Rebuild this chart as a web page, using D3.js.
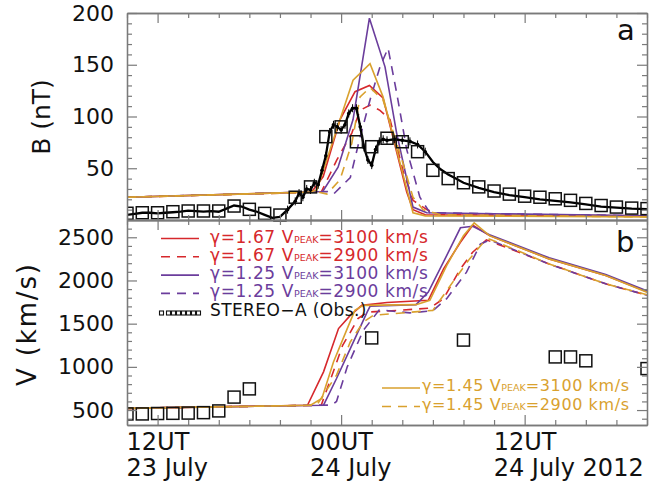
<!DOCTYPE html>
<html>
<head>
<meta charset="UTF-8">
<title>B and V, 23-24 July 2012</title>
<style>
  body { margin: 0; background: #fff; }
  text { font-family: "DejaVu Sans", sans-serif; }
</style>
</head>
<body>
<svg></svg>
<script src="https://d3js.org/d3.v7.min.js"></script>
<script>
// time in hours from 00UT 24 July 2012
// ---- panel a : B (nT) ----
const redB       = [[-14,22],[-2,27],[-1.9,27.5],[-1.17,42],[-0.07,97],[0.91,124],[1.85,130],[2.74,118],[3.39,80],[4.29,27],[4.7,10],[5.5,5],[20,4]];
const redDashB   = [[-14,22],[-1.3,27],[-0.28,58],[0.7,84],[1.24,106],[1.89,111],[2.54,106],[3.2,97],[4.04,48],[4.7,19],[5.6,10],[6.5,5],[20,4]];
const purpleB    = [[-14,22],[-1.2,27.5],[-0.2,51],[0.78,97],[1.85,195],[2.87,148],[3.63,84],[4.7,12.5],[5.6,7],[20,4]];
const purpleDashB= [[-14,22],[-0.9,27.5],[-0.5,25],[0.6,41],[1.24,80],[1.89,116],[2.54,148],[3.07,166],[3.63,123],[4.29,68],[5.15,22],[5.8,7],[20,4]];
const goldB      = [[-14,22],[-2,27],[-1.58,29],[-0.72,68],[0.78,135],[1.89,151],[2.74,119],[3.52,74],[4.7,7],[5.5,4],[20,3]];
const goldDashB  = [[-14,22],[-1.5,27],[-0.93,25],[-0.07,39],[0.7,74],[1.24,119],[1.89,128],[2.74,116],[4.04,55],[4.7,22],[5.35,10],[6.5,5],[20,3]];
const obsB = [[-14,5],[-13.5,6],[-13,7],[-12.5,7],[-12,6.5],[-11.5,7],[-11,7.5],[-10.5,8],[-10,9],[-9.5,8.5],[-9,8],[-8.5,8.5],[-8,8],
  [-7.5,11],[-7,14],[-6.5,13],[-6,10],[-5.5,8],[-5,5],[-4.5,2],[-4,3],[-3.5,10],[-3,18],[-2.75,26],[-2.5,22],[-2.25,30],[-2,29],[-1.75,36],[-1.5,34],
  [-1.25,48],[-1,62],[-0.75,85],[-0.5,92],[-0.25,90],[0,87],[0.25,92],[0.5,103],[0.75,108],[1,108],[1.25,90],[1.5,70],[1.75,58],[2,53],
  [2.25,68],[2.5,76],[2.75,78],[3,77],[3.5,78],[4,77],[4.5,76],[5,73],[5.5,66],[6,56],[6.5,49],[7,44],[7.5,40],[8,36],[9,31],[10,27],
  [11,24],[12,22],[13,20],[14,18.5],[15,17],[16,15],[17,13],[18,12],[19,11],[20,10.5]];
const sqBTime  = [-14,-13,-12,-11,-10,-9,-8,-7,-6,-5,-4,-3,-2,-1,0,1,2,3,4,5,6,7,8,9,10,11,12,13,14,15,16,17,18,19,20];
const sqBValue = [6.5,7,7,8,8.7,8.7,8.7,13.5,10.3,6.4,4.8,22,32,80.5,90,75.6,70.8,79,75.6,66,48,40,36,32,28,25,23,22,20.5,19,16,14,12.5,11.5,11];

// ---- panel b : V (km/s) ----
const redV        = [[-14,520],[-2.2,555],[-1.15,942],[-0.17,1443],[0.6,1596],[1.35,1712],[3,1745],[5.7,1770],[6.7,2135],[7.8,2442],[8.6,2640],[9.7,2519],[13.6,2250],[17.3,2057],[20,1868]];
const redDashV    = [[-14,520],[-1.3,556],[-0.5,950],[0.1,1250],[0.6,1400],[1.1,1558],[1.7,1634],[3.8,1654],[5.8,1680],[6.7,1790],[7.8,2135],[8.6,2327],[9.5,2470],[13.6,2192],[17.3,1961],[20,1830]];
const purpleV     = [[-14,520],[-1.15,556],[-0.3,865],[0.6,1212],[1.7,1634],[1.9,1703],[4.9,1720],[5.7,1865],[6.9,2288],[7.8,2610],[8.6,2627],[9.7,2530],[13.6,2262],[17.3,2070],[20,1880]];
const purpleDashV = [[-14,520],[-0.6,558],[-0.3,600],[0.4,1000],[1.45,1423],[2.5,1660],[4.5,1625],[6,1650],[6.9,1790],[8.2,2096],[9.1,2420],[9.7,2470],[13.6,2190],[17.3,1961],[20,1830]];
const goldV       = [[-14,520],[-2,555],[-1.26,635],[-0.5,1057],[0.4,1443],[0.9,1654],[1.45,1712],[4.9,1720],[5.8,1770],[6.9,2173],[8,2519],[8.7,2666],[9.7,2519],[13.6,2250],[17.3,2057],[20,1865]];
const goldDashV   = [[-14,520],[-1.6,556],[-0.3,904],[0.6,1288],[1.45,1519],[2.1,1596],[6,1654],[7.3,1981],[8.4,2250],[9.4,2462],[9.7,2480],[13.6,2192],[17.3,1961],[20,1835]];
const sqVTime  = [-14,-13,-12,-11,-10,-9,-8,-7,-6,2,8,14,15,16,20];
const sqVValue = [455,455,460,462,465,470,490,650,745,1335,1310,1115,1115,1070,980];

// ticks and labels
const bTicks = [50,100,150,200];
const bMinor = [10,20,30,40,60,70,80,90,110,120,130,140,160,170,180,190];
const vTicks = [500,1000,1500,2000,2500];
const vMinor = [400,600,700,800,900,1100,1200,1300,1400,1600,1700,1800,1900,2100,2200,2300,2400,2600];
const xTicks = [-12,0,12];
const xMinor = [-14,-10,-8,-6,-4,-2,2,4,6,8,10,14,16,18,20];
const xLabels = [["12UT","23 July"],["00UT","24 July"],["12UT","24 July 2012"]];

const RED = "#d6282c", PURPLE = "#6b3d9c", GOLD = "#d9a12e";
const models = [
  {b: redB, v: redV, color: RED, dash: null, gamma: "1.67", vp: "3100"},
  {b: redDashB, v: redDashV, color: RED, dash: "9,7", gamma: "1.67", vp: "2900"},
  {b: purpleB, v: purpleV, color: PURPLE, dash: null, gamma: "1.25", vp: "3100"},
  {b: purpleDashB, v: purpleDashV, color: PURPLE, dash: "9,7", gamma: "1.25", vp: "2900"},
  {b: goldB, v: goldV, color: GOLD, dash: null, gamma: "1.45", vp: "3100"},
  {b: goldDashB, v: goldDashV, color: GOLD, dash: "9,7", gamma: "1.45", vp: "2900"}
];

const width = 667, height = 486;
const left = 127, right = 647;
const svg = d3.select("svg").attr("width", width).attr("height", height);

const x = d3.scaleLinear().domain([-14, 20]).range([left, right]);
const yB = d3.scaleLinear().domain([0, 200]).range([220, 13]);
const yV = d3.scaleLinear().domain([327, 2700]).range([425, 220]);

const defs = svg.append("defs");
defs.append("clipPath").attr("id", "clipA").append("rect")
    .attr("x", left).attr("y", 13).attr("width", right - left).attr("height", 207);
defs.append("clipPath").attr("id", "clipB").append("rect")
    .attr("x", left).attr("y", 220).attr("width", right - left).attr("height", 205);
defs.append("clipPath").attr("id", "clipX").append("rect")
    .attr("x", left).attr("y", 0).attr("width", right - left).attr("height", height);

function frame(y, major, minor) {
  const [y0, y1] = y.range();
  const g = svg.append("g");
  const add = (axis, tf) => g.append("g").attr("transform", tf).call(axis);
  add(d3.axisLeft(y).tickValues(minor).tickSize(-5).tickSizeOuter(0).tickFormat(""), `translate(${left},0)`);
  const la = add(d3.axisLeft(y).tickValues(major).tickSize(-10).tickSizeOuter(0).tickPadding(13)
      .tickFormat(d3.format("d")), `translate(${left},0)`);
  add(d3.axisRight(y).tickValues(minor).tickSize(-5).tickSizeOuter(0).tickFormat(""), `translate(${right},0)`);
  add(d3.axisRight(y).tickValues(major).tickSize(-10).tickSizeOuter(0).tickFormat(""), `translate(${right},0)`);
  add(d3.axisTop(x).tickValues(xMinor).tickSize(-5).tickSizeOuter(0).tickFormat(""), `translate(0,${y1})`);
  add(d3.axisTop(x).tickValues(xTicks).tickSize(-10).tickSizeOuter(0).tickFormat(""), `translate(0,${y1})`);
  add(d3.axisBottom(x).tickValues(xMinor).tickSize(-5).tickSizeOuter(0).tickFormat(""), `translate(0,${y0})`);
  add(d3.axisBottom(x).tickValues(xTicks).tickSize(-10).tickSizeOuter(0).tickFormat(""), `translate(0,${y0})`);
  g.selectAll("path.domain").attr("stroke", "#7a7a7a").attr("stroke-width", 1.3);
  g.selectAll(".tick line").attr("stroke", "#7a7a7a").attr("stroke-width", 1.2);
  la.selectAll("text").attr("font-size", 22).attr("fill", "#111")
    .attr("font-family", "DejaVu Sans, sans-serif");
}

const lineB = d3.line().x(d => x(d[0])).y(d => yB(d[1]));
const lineV = d3.line().x(d => x(d[0])).y(d => yV(d[1]));

// ---- panel a ----
const gA = svg.append("g").attr("clip-path", "url(#clipA)");
gA.selectAll("path.model").data(models).join("path")
    .attr("class", "model")
    .attr("d", d => lineB(d.b))
    .attr("fill", "none").attr("stroke", d => d.color).attr("stroke-width", 1.6)
    .attr("stroke-dasharray", d => d.dash);
gA.append("path").attr("d", lineB(obsB))
    .attr("fill", "none").attr("stroke", "#000").attr("stroke-width", 2.3);
const dotsB = obsB.filter(d => d[0] >= -3.5 && d[0] <= 5.5);
gA.selectAll("line.err").data(dotsB).join("line")
    .attr("class", "err")
    .attr("x1", d => x(d[0])).attr("x2", d => x(d[0]))
    .attr("y1", d => yB(d[1]) - 4).attr("y2", d => yB(d[1]) + 4)
    .attr("stroke", "#000").attr("stroke-width", 1);
gA.selectAll("circle").data(dotsB).join("circle")
    .attr("cx", d => x(d[0])).attr("cy", d => yB(d[1])).attr("r", 1.8).attr("fill", "#000");

svg.append("g").attr("clip-path", "url(#clipX)")
  .selectAll("rect").data(sqBTime).join("rect")
    .attr("x", (t) => x(t) - 6).attr("y", (t, i) => yB(sqBValue[i]) - 6)
    .attr("width", 12).attr("height", 12)
    .attr("fill", "none").attr("stroke", "#111").attr("stroke-width", 1.5);

// ---- panel b ----
const gB = svg.append("g").attr("clip-path", "url(#clipB)");
gB.selectAll("path.model").data(models).join("path")
    .attr("class", "model")
    .attr("d", d => lineV(d.v))
    .attr("fill", "none").attr("stroke", d => d.color).attr("stroke-width", 1.6)
    .attr("stroke-dasharray", d => d.dash);
svg.append("g").attr("clip-path", "url(#clipX)")
  .selectAll("rect").data(sqVTime).join("rect")
    .attr("x", (t) => x(t) - 6).attr("y", (t, i) => yV(sqVValue[i]) - 6)
    .attr("width", 12).attr("height", 12)
    .attr("fill", "none").attr("stroke", "#111").attr("stroke-width", 1.5);

frame(yB, bTicks, bMinor);
frame(yV, vTicks, vMinor);

// x-axis labels under panel b
const xl = svg.append("g").attr("font-size", 24).attr("fill", "#111");
xTicks.forEach((t, i) => {
  const txt = xl.append("text").attr("x", x(t) - 31).attr("y", 450);
  txt.append("tspan").attr("x", x(t) - 31).text(xLabels[i][0]);
  txt.append("tspan").attr("x", x(t) - 31).attr("dy", 25.5).text(xLabels[i][1]);
});

// axis titles and panel letters
svg.append("text").attr("transform", "translate(50,117) rotate(-90)")
    .attr("text-anchor", "middle").attr("font-size", 25).attr("fill", "#111").text("B (nT)");
svg.append("text").attr("transform", "translate(36,325) rotate(-90)")
    .attr("text-anchor", "middle").attr("font-size", 26).attr("fill", "#111")
    .attr("textLength", 122).attr("lengthAdjust", "spacing").text("V (km/s)");
svg.append("text").attr("x", 617).attr("y", 40).attr("font-size", 29).attr("fill", "#111").text("a");
svg.append("text").attr("x", 616).attr("y", 252).attr("font-size", 29).attr("fill", "#111").text("b");

// ---- legends ----
function legendRow(m, x0, x1, tx, base, lineOff, fs) {
  svg.append("line").attr("x1", x0).attr("x2", x1)
      .attr("y1", base - lineOff).attr("y2", base - lineOff)
      .attr("stroke", m.color).attr("stroke-width", 1.6).attr("stroke-dasharray", m.dash);
  const t = svg.append("text").attr("x", tx).attr("y", base).attr("font-size", fs)
      .attr("letter-spacing", 0.6).attr("fill", m.color);
  t.append("tspan").text(`\u03b3=${m.gamma} V`);
  t.append("tspan").attr("font-size", 9.5).attr("letter-spacing", 0).text("PEAK");
  t.append("tspan").text(`=${m.vp} km/s`);
}
[0, 1, 2, 3].forEach((k, i) => legendRow(models[k], 161, 199, 210, 242.5 + i * 18.3, 4, 17));
[4, 5].forEach((k, i) => legendRow(models[k], 382, 420, 422, 391 + i * 18.5, 3, 16));

const sqLeg = [161.5, 168.5, 173.5, 178.5, 183.5, 188.5, 193.5, 198.5];
svg.append("g").selectAll("rect").data(sqLeg).join("rect")
    .attr("x", d => d - 2).attr("y", 311).attr("width", 4).attr("height", 4)
    .attr("fill", "none").attr("stroke", "#111").attr("stroke-width", 1.1);
svg.append("text").attr("x", 210).attr("y", 315.5).attr("font-size", 17).attr("letter-spacing", 0.4)
    .attr("fill", "#111").text("STEREO\u2212A (Obs.)");
</script>
</body>
</html>
